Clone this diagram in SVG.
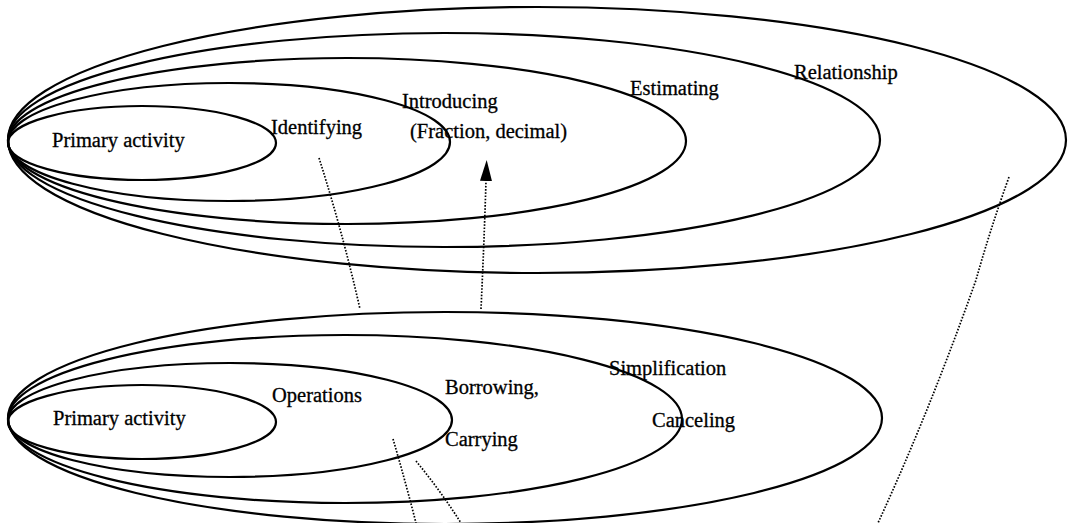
<svg xmlns="http://www.w3.org/2000/svg" width="1068" height="523" viewBox="0 0 1068 523">
  <style>
    .ring { fill: none; stroke: #000; stroke-width: 2.2; }
    .lbl { font-family: "Liberation Serif", "Times New Roman", serif; font-size: 20.5px; fill: #000; stroke: #000; stroke-width: 0.3; }
    .dot { fill: none; stroke: #000; stroke-width: 1.7; stroke-dasharray: 1.6 1.6; }
  </style>
  <defs>
    <marker id="arrowHead" markerUnits="userSpaceOnUse" markerWidth="21" markerHeight="12" refX="0" refY="6" orient="auto">
      <path d="M0,0 L21,6 L0,12 Z" fill="#000"/>
    </marker>
  </defs>
  <rect width="1068" height="523" fill="#fff"/>

  <!-- upper nest: fractions and decimals -->
  <g id="upper-relationship">
    <ellipse class="ring" cx="537" cy="140" rx="529" ry="133"/>
    <text class="lbl" x="794" y="79">Relationship</text>
  </g>
  <g id="upper-estimating">
    <ellipse class="ring" cx="444" cy="140" rx="436" ry="107"/>
    <text class="lbl" x="630" y="95">Estimating</text>
  </g>
  <g id="upper-introducing">
    <ellipse class="ring" cx="347" cy="141" rx="339" ry="83"/>
    <text class="lbl" x="402" y="108">Introducing</text>
    <text class="lbl" x="410" y="138">(Fraction, decimal)</text>
  </g>
  <g id="upper-identifying">
    <ellipse class="ring" cx="229" cy="142" rx="221" ry="59"/>
    <text class="lbl" x="271" y="134">Identifying</text>
  </g>
  <g id="upper-primary">
    <ellipse class="ring" cx="142" cy="143" rx="134" ry="37"/>
    <text class="lbl" x="52" y="147">Primary activity</text>
  </g>

  <!-- lower nest: operations -->
  <g id="lower-simplification">
    <ellipse class="ring" cx="445" cy="418" rx="437" ry="106"/>
    <text class="lbl" x="609" y="375">Simplification</text>
    <text class="lbl" x="652" y="427">Canceling</text>
  </g>
  <g id="lower-borrowing">
    <ellipse class="ring" cx="345" cy="419" rx="337" ry="84"/>
    <text class="lbl" x="445" y="394">Borrowing,</text>
    <text class="lbl" x="445" y="446">Carrying</text>
  </g>
  <g id="lower-operations">
    <ellipse class="ring" cx="230" cy="420" rx="222" ry="57"/>
    <text class="lbl" x="272" y="402">Operations</text>
  </g>
  <g id="lower-primary">
    <ellipse class="ring" cx="142" cy="422" rx="134" ry="37"/>
    <text class="lbl" x="53" y="425">Primary activity</text>
  </g>

  <!-- dotted links between the nests -->
  <g id="connectors">
    <path class="dot" d="M319,158 Q342,230 360,309"/>
    <path class="dot" d="M481,309 Q484,245 486,181" marker-end="url(#arrowHead)"/>
    <path class="dot" d="M1009,177 Q990,230 976,280 Q930,410 878,523"/>
    <path class="dot" d="M393,439 Q405,480 416,523"/>
    <path class="dot" d="M416,461 Q440,490 461,523"/>
  </g>
</svg>
